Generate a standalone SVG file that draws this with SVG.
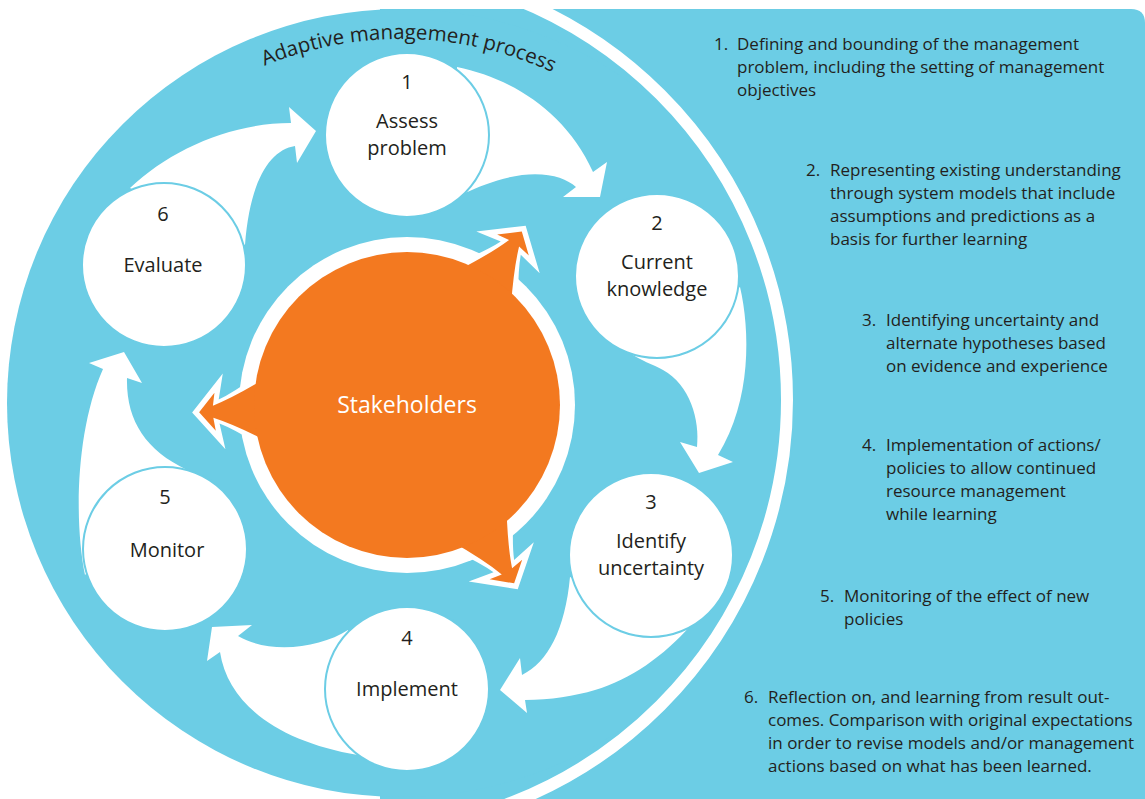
<svg xmlns="http://www.w3.org/2000/svg" width="1145" height="799" viewBox="0 0 1145 799">
<style>
.bg{fill:#6ccde5}
.node circle{fill:#ffffff;stroke:#6ccde5;stroke-width:2}
.lbl{font-family:"Open Sans","Liberation Sans",sans-serif;font-size:20px;fill:#231f20;text-anchor:middle}
.desc{font-family:"Open Sans","Liberation Sans",sans-serif;font-size:17px;fill:#231f20}
.conn path{fill:#ffffff}
.ow{fill:#ffffff}
.oo{fill:#f37920}
</style>
<defs>
<path id="oa-w" d="M150,-34 Q174,-18 188,-12 L183,-38 L215,0 L183,38 L188,12 Q174,18 150,34 Z"/>
<path id="oa-o" d="M140,-32 Q172,-14 194,-6 L192,-19 L208,0 L192,19 L194,6 Q172,14 140,32 Z"/>
<path id="titlearc" d="M40,400 A361,361 0 0 1 762,400"/>
</defs>

<g id="background">
<path class="bg" d="M380,9 H1131 Q1145,9 1145,23 V799 H380 Z"/>
<circle class="bg" cx="401" cy="403" r="394"/>
<circle cx="355" cy="400" r="432" fill="none" stroke="#ffffff" stroke-width="12"/>
</g>

<g id="title">
<text font-family="'Open Sans','Liberation Sans',sans-serif" font-size="20.5" fill="#231f20"><textPath href="#titlearc" startOffset="575" text-anchor="middle">Adaptive management process</textPath></text>
</g>

<g id="connectors" class="conn">
<path id="a61" d="M130,188 C170,150 230,123 291,123 L289,107 L316,131 L297,163 L295,146 C270,150 250,180 245,245 Z"/>
<path id="a12" d="M457,67 C510,78 565,110 593,172 L607,162 L600,197 L563,197 L576,187 C566,178 548,172 522,175 C500,178 480,186 465,193 Z"/>
<path id="a23" d="M740,287 C750,330 752,400 718,455 L733,462 L699,473 L680,442 L697,447 C700,420 690,385 663,370 C652,364 640,360 633,355 Z"/>
<path id="a34" d="M690,626 C665,655 630,680 595,690 C575,696 550,700 525,700 L527,713 L500,690 L520,658 L522,675 C548,662 565,630 570,577 Z"/>
<path id="a45" d="M348,630 C320,648 270,655 238,636 L252,625 L212,627 L207,661 L220,652 C228,705 280,742 358,755 Z"/>
<path id="a56" d="M85,575 C74,520 76,430 103,369 L89,363 L124,352 L142,383 L127,378 C126,420 145,450 187,470 Z"/>
</g>

<g id="node-1" class="node">
<circle cx="407" cy="135" r="82"/>
<text class="lbl" x="407" y="89">1</text>
<text class="lbl" x="407" y="128">Assess</text>
<text class="lbl" x="407" y="155">problem</text>
</g>
<g id="node-2" class="node">
<circle cx="657" cy="276" r="82"/>
<text class="lbl" x="657" y="230">2</text>
<text class="lbl" x="657" y="269">Current</text>
<text class="lbl" x="657" y="296">knowledge</text>
</g>
<g id="node-3" class="node">
<circle cx="651" cy="555" r="82"/>
<text class="lbl" x="651" y="509">3</text>
<text class="lbl" x="651" y="548">Identify</text>
<text class="lbl" x="651" y="575">uncertainty</text>
</g>
<g id="node-4" class="node">
<circle cx="407" cy="689" r="82"/>
<text class="lbl" x="407" y="645">4</text>
<text class="lbl" x="407" y="696">Implement</text>
</g>
<g id="node-5" class="node">
<circle cx="165" cy="549" r="82"/>
<text class="lbl" x="165" y="504">5</text>
<text class="lbl" x="167" y="557">Monitor</text>
</g>
<g id="node-6" class="node">
<circle cx="164" cy="265" r="82"/>
<text class="lbl" x="163" y="221">6</text>
<text class="lbl" x="163" y="272">Evaluate</text>
</g>

<g id="stakeholders">
<circle cx="407" cy="405" r="168" fill="#ffffff"/>
<use href="#oa-w" class="ow" transform="translate(407,405) rotate(178)"/>
<use href="#oa-w" class="ow" transform="translate(407,405) rotate(-56.5)"/>
<use href="#oa-w" class="ow" transform="translate(407,405) rotate(59)"/>
<use href="#oa-o" class="oo" transform="translate(407,405) rotate(178)"/>
<use href="#oa-o" class="oo" transform="translate(407,405) rotate(-56.5)"/>
<use href="#oa-o" class="oo" transform="translate(407,405) rotate(59)"/>
<circle cx="407" cy="405" r="153" fill="#f37920"/>
<text x="407" y="413" font-family="'Open Sans','Liberation Sans',sans-serif" font-size="23" fill="#ffffff" text-anchor="middle">Stakeholders</text>
</g>

<g id="legend" class="desc">
<text x="714" y="50">1.</text>
<text x="737" y="50">Defining and bounding of the management</text>
<text x="737" y="73">problem, including the setting of management</text>
<text x="737" y="96">objectives</text>

<text x="806" y="176">2.</text>
<text x="830" y="176">Representing existing understanding</text>
<text x="830" y="199">through system models that include</text>
<text x="830" y="222">assumptions and predictions as a</text>
<text x="830" y="245">basis for further learning</text>

<text x="862" y="326">3.</text>
<text x="886" y="326">Identifying uncertainty and</text>
<text x="886" y="349">alternate hypotheses based</text>
<text x="886" y="372">on evidence and experience</text>

<text x="862" y="451">4.</text>
<text x="886" y="451">Implementation of actions/</text>
<text x="886" y="474">policies to allow continued</text>
<text x="886" y="497">resource management</text>
<text x="886" y="520">while learning</text>

<text x="820" y="602">5.</text>
<text x="844" y="602">Monitoring of the effect of new</text>
<text x="844" y="625">policies</text>

<text x="744" y="703">6.</text>
<text x="768" y="703">Reflection on, and learning from result out-</text>
<text x="768" y="726">comes. Comparison with original expectations</text>
<text x="768" y="749">in order to revise models and/or management</text>
<text x="768" y="772">actions based on what has been learned.</text>
</g>
</svg>
